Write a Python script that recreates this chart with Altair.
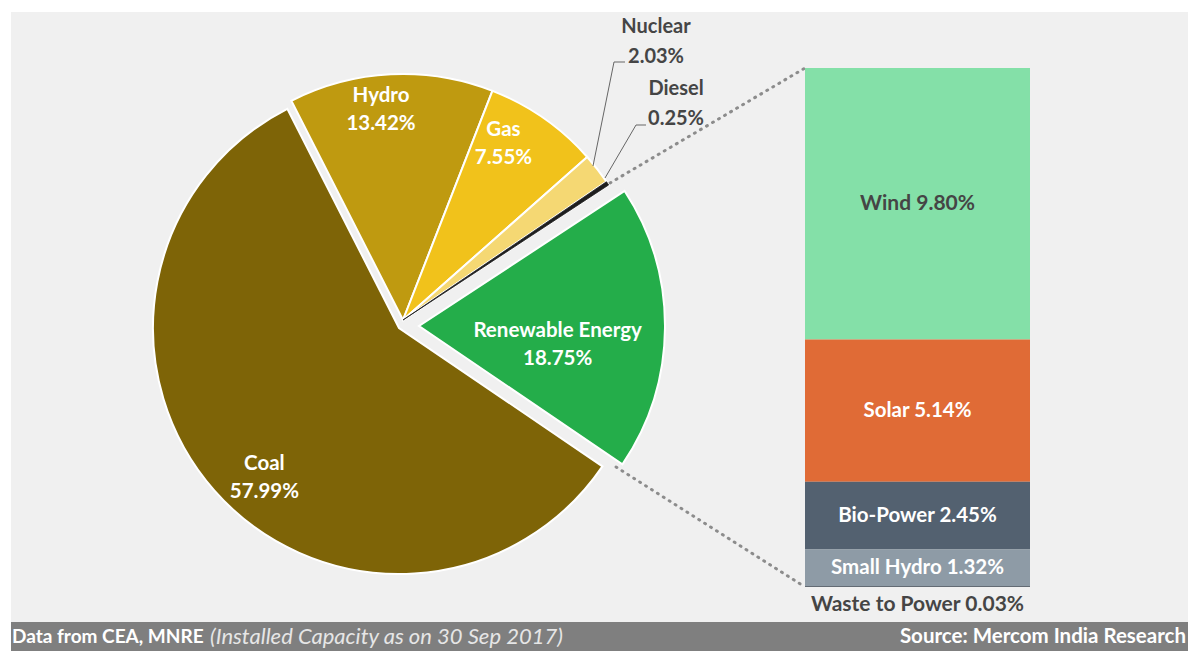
import math
import altair as alt
import pandas as pd

# ---------------- data ----------------
PIE_NAMES = ["Hydro", "Gas", "Nuclear", "Diesel", "Renewable Energy", "Coal"]
PIE_VALUES = [13.42, 7.55, 2.03, 0.25, 18.75, 57.99]
BAR_NAMES = ["Wind", "Solar", "Bio-Power", "Small Hydro", "Waste to Power"]
BAR_VALUES = [9.80, 5.14, 2.45, 1.32, 0.03]
FOOTER_SOURCE = "Data from CEA, MNRE"
FOOTER_NOTE = "(Installed Capacity as on 30 Sep 2017)"
FOOTER_CREDIT = "Source: Mercom India Research"

# ---------------- styles / layout ----------------
PIE_COLORS = ["#bf9a10", "#f1c21b", "#f5d873", "#1e1e1e", "#24ad4a", "#7e6407"]
BAR_COLORS = ["#84e0a8", "#e06b36", "#536170", "#8e9ba6", "#3c4650"]
W, H = 1180, 643
FONT = "Lato"
BG = "#f0f0f0"
FOOT_BG = "#7f7f7f"
DARK = "#454545"
R = 246
START = math.radians(-27)
GROUPS = {
    "coal": ["Coal"],
    "top": ["Hydro", "Gas", "Nuclear", "Diesel"],
    "re": ["Renewable Energy"],
}
CENTERS = {"coal": (391, 320), "top": (395, 312), "re": (411, 318)}
# name: (group, radius factor, dx, dy)
INNER_LABELS = {
    "Hydro": ("top", 0.82, -12, -23),
    "Gas": ("top", 0.82, -15, -25),
    "Renewable Energy": ("re", 0.6, -9, 4),
    "Coal": ("coal", 0.8, 13, 6),
}
BAR_X0, BAR_X1 = 797, 1022
BAR_TOP, BAR_BOTTOM = 60, 579

pie_df = pd.DataFrame({"name": PIE_NAMES, "value": PIE_VALUES, "order": list(range(len(PIE_NAMES)))})
bar_df = pd.DataFrame({"name": BAR_NAMES, "value": BAR_VALUES, "order": list(range(len(BAR_NAMES)))})
one = pd.DataFrame({"k": [0]})

color_scale = alt.Scale(domain=PIE_NAMES + BAR_NAMES, range=PIE_COLORS + BAR_COLORS)
theta_scale = alt.Scale(domain=[0, sum(PIE_VALUES)], range=[START, START + 2 * math.pi])
bar_scale = alt.Scale(domain=[0, sum(BAR_VALUES)], range=[BAR_TOP, BAR_BOTTOM])


def cumulative(chart):
    return chart.transform_window(
        c1="sum(value)", sort=[alt.SortField("order")]
    ).transform_calculate(
        c0="datum.c1 - datum.value",
        mid="datum.c1 - datum.value / 2",
        pct="format(datum.value, '.2f') + '%'",
    )


layers = []

# background panels
layers.append(alt.Chart(one).mark_rect(color=BG).encode(
    x=alt.value(3), x2=alt.value(W), y=alt.value(4), y2=alt.value(614)))
layers.append(alt.Chart(one).mark_rect(color=FOOT_BG).encode(
    x=alt.value(3), x2=alt.value(W), y=alt.value(614), y2=alt.value(H)))

# dotted connectors from the renewable slice to the bar
for (xa, ya, xb, yb) in [(602, 175, BAR_X0, BAR_TOP), (608, 459, BAR_X0, BAR_BOTTOM)]:
    layers.append(alt.Chart(one).mark_rule(
        color="#8c8c8c", strokeWidth=3, strokeDash=[1, 6], strokeCap="round").encode(
        x=alt.value(xa), y=alt.value(ya), x2=alt.value(xb), y2=alt.value(yb)))

# pie slices
for g, names in GROUPS.items():
    cx, cy = CENTERS[g]
    base = cumulative(alt.Chart(pie_df)).transform_filter(
        alt.FieldOneOfPredicate(field="name", oneOf=names))
    layers.append(base.mark_arc(radius=R, stroke="#ffffff", strokeWidth=2).encode(
        theta=alt.Theta("c0:Q", scale=theta_scale),
        theta2="c1",
        color=alt.Color("name:N", scale=color_scale, legend=None),
        x=alt.value(cx), y=alt.value(cy)))

# diesel drawn again on top so the thin slice stays visible
cx, cy = CENTERS["top"]
layers.append(cumulative(alt.Chart(pie_df)).transform_filter(
    alt.FieldEqualPredicate(field="name", equal="Diesel")).mark_arc(
    radius=R, stroke="#1e1e1e", strokeWidth=0.8).encode(
    theta=alt.Theta("c0:Q", scale=theta_scale), theta2="c1",
    color=alt.Color("name:N", scale=color_scale, legend=None),
    x=alt.value(cx), y=alt.value(cy)))

# inner pie labels
for name, (g, rf, dx, dy) in INNER_LABELS.items():
    cx, cy = CENTERS[g]
    base = cumulative(alt.Chart(pie_df)).transform_filter(
        alt.FieldEqualPredicate(field="name", equal=name)).transform_calculate(
        label="datum.name + '|' + datum.pct")
    layers.append(base.mark_text(
        radius=R * rf, dx=dx, dy=dy, font=FONT, fontSize=20.5, fontWeight="bold",
        color="#ffffff", lineBreak="|", lineHeight=28, baseline="middle", align="center").encode(
        theta=alt.Theta("mid:Q", scale=theta_scale),
        text="label:N", x=alt.value(cx), y=alt.value(cy)))

# outer labels (Nuclear, Diesel) with leader lines
for name, (tx, ty) in {"Nuclear": (648, 19), "Diesel": (668, 81)}.items():
    base = cumulative(alt.Chart(pie_df)).transform_filter(
        alt.FieldEqualPredicate(field="name", equal=name)).transform_calculate(
        label="datum.name + '|' + datum.pct")
    layers.append(base.mark_text(
        font=FONT, fontSize=20, fontWeight="bold", color=DARK,
        lineBreak="|", lineHeight=30, baseline="middle", align="center").encode(
        text="label:N", x=alt.value(tx), y=alt.value(ty)))

for (xa, ya, xb, yb) in [(585, 158, 606, 54), (606, 54, 617, 54),
                         (597, 170, 628, 117), (628, 117, 638, 117)]:
    layers.append(alt.Chart(one).mark_rule(color="#666666", strokeWidth=1).encode(
        x=alt.value(xa), y=alt.value(ya), x2=alt.value(xb), y2=alt.value(yb)))

# stacked renewable bar
bar_base = cumulative(alt.Chart(bar_df))
layers.append(bar_base.mark_rect().encode(
    y=alt.Y("c0:Q", scale=bar_scale, axis=None), y2="c1",
    x=alt.value(BAR_X0), x2=alt.value(BAR_X1),
    color=alt.Color("name:N", scale=color_scale, legend=None)))

bar_lab = bar_base.transform_calculate(label="datum.name + ' ' + datum.pct")
BAR_MID = (BAR_X0 + BAR_X1) / 2
layers.append(bar_lab.transform_filter(
    alt.FieldEqualPredicate(field="name", equal="Wind")).mark_text(
    font=FONT, fontSize=21, fontWeight="bold", color=DARK, baseline="middle").encode(
    y=alt.Y("mid:Q", scale=bar_scale, axis=None), x=alt.value(BAR_MID), text="label:N"))
layers.append(bar_lab.transform_filter(
    alt.FieldOneOfPredicate(field="name", oneOf=["Solar", "Bio-Power", "Small Hydro"])).mark_text(
    font=FONT, fontSize=20.5, fontWeight="bold", color="#ffffff", baseline="middle").encode(
    y=alt.Y("mid:Q", scale=bar_scale, axis=None), x=alt.value(BAR_MID), text="label:N"))
layers.append(bar_lab.transform_filter(
    alt.FieldEqualPredicate(field="name", equal="Waste to Power")).mark_text(
    font=FONT, fontSize=21, fontWeight="bold", color=DARK, baseline="top", dy=7).encode(
    y=alt.Y("c1:Q", scale=bar_scale, axis=None), x=alt.value(BAR_MID), text="label:N"))

# footer
foot = pd.DataFrame({"a": [FOOTER_SOURCE], "b": [FOOTER_NOTE], "c": [FOOTER_CREDIT]})
layers.append(alt.Chart(foot).mark_text(
    font=FONT, fontSize=19, fontWeight="bold", color="#ffffff", align="left", baseline="middle").encode(
    text="a:N", x=alt.value(4), y=alt.value(629)))
layers.append(alt.Chart(foot).mark_text(
    font=FONT, fontSize=22, fontStyle="italic", color="#e6e6e6", align="left", baseline="middle").encode(
    text="b:N", x=alt.value(202), y=alt.value(629)))
layers.append(alt.Chart(foot).mark_text(
    font=FONT, fontSize=20.5, fontWeight="bold", color="#ffffff", align="right", baseline="middle").encode(
    text="c:N", x=alt.value(1178), y=alt.value(629)))

chart = alt.layer(*layers).properties(
    width=W, height=H, padding=0, background="#ffffff",
    autosize=alt.AutoSizeParams(type="none"),
).configure_view(strokeWidth=0)

chart.save("out.html", embed_options={"renderer": "svg", "actions": False})
